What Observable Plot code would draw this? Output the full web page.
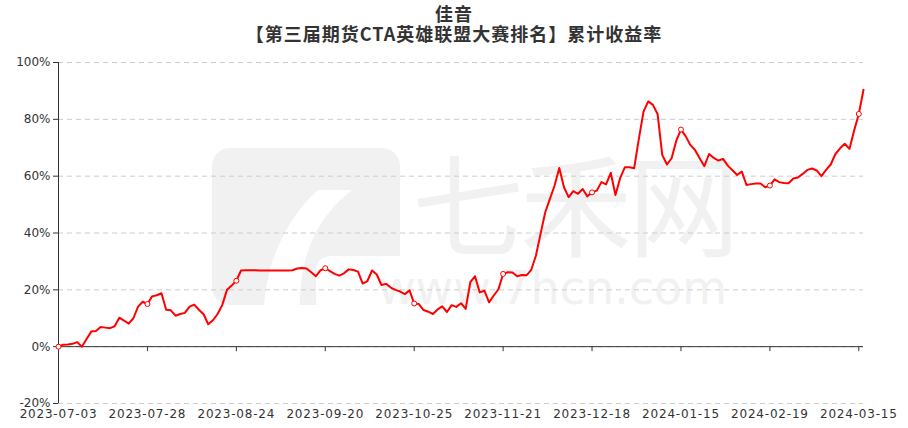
<!DOCTYPE html>
<html>
<head>
<meta charset="utf-8">
<script src="https://cdn.jsdelivr.net/npm/d3@7"></script>
<script src="https://cdn.jsdelivr.net/npm/@observablehq/plot@0.6"></script>
<style>
  html, body { margin: 0; padding: 0; background: #fff; }
  #wrap { position: relative; width: 908px; height: 428px; overflow: hidden; }
  #title { position: relative; z-index: 2; height: 45px; box-sizing: border-box; padding-top: 3px;
    text-align: center; font-family: "Noto Sans CJK SC", sans-serif; font-weight: bold; font-size: 18px;
    color: #333; letter-spacing: 1px; }
  #title div { height: 20px; line-height: 20px; }
  .wm { position: absolute; z-index: 0; color: #f1f1f1; white-space: nowrap; line-height: 1; }
  #wm1 { left: 412px; top: 144px; font-family: "Noto Sans CJK SC", sans-serif; font-size: 112px; letter-spacing: -4px; }
  #wm2 { left: 378px; top: 265px; font-family: "DejaVu Sans", sans-serif; font-size: 46px; }
  #logo { position: absolute; z-index: 0; left: 0; top: 0; }
  #chart { position: relative; z-index: 1; }
  #chart g[aria-label="x-axis tick label"] text { letter-spacing: 0.8px; }
</style>
</head>
<body>
<div id="wrap">
  <div id="title"><div>佳音</div><div>【第三届期货CTA英雄联盟大赛排名】累计收益率</div></div>
  <svg id="logo" width="908" height="428">
    <rect x="212" y="148" width="188" height="157" rx="18" fill="#f1f1f1"></rect>
    <path d="M300,305 C300,250 320,215 352,190 L318,190 C290,215 268,255 264,305 Z" fill="#fff"></path>
    <path d="M316,305 L316,272 Q316,256 332,256 L400,256 L400,305 Z" fill="#fff"></path>
  </svg>
  <div class="wm" id="wm1">七禾网</div>
  <div class="wm" id="wm2">www.7hcn.com</div>
  <div id="chart"></div>
</div>
<script>
const dates = [
"2023-07-03","2023-07-04","2023-07-05","2023-07-06","2023-07-07","2023-07-10","2023-07-11","2023-07-12","2023-07-13","2023-07-14","2023-07-17","2023-07-18","2023-07-19","2023-07-20","2023-07-21","2023-07-24","2023-07-25","2023-07-26","2023-07-27","2023-07-28","2023-07-31",
"2023-08-01","2023-08-02","2023-08-03","2023-08-04","2023-08-07","2023-08-08","2023-08-09","2023-08-10","2023-08-11","2023-08-14","2023-08-15","2023-08-16","2023-08-17","2023-08-18","2023-08-21","2023-08-22","2023-08-23","2023-08-24","2023-08-25","2023-08-28","2023-08-29","2023-08-30","2023-08-31",
"2023-09-01","2023-09-04","2023-09-05","2023-09-06","2023-09-07","2023-09-08","2023-09-11","2023-09-12","2023-09-13","2023-09-14","2023-09-15","2023-09-18","2023-09-19","2023-09-20","2023-09-21","2023-09-22","2023-09-25","2023-09-26","2023-09-27","2023-09-28",
"2023-10-09","2023-10-10","2023-10-11","2023-10-12","2023-10-13","2023-10-16","2023-10-17","2023-10-18","2023-10-19","2023-10-20","2023-10-23","2023-10-24","2023-10-25","2023-10-26","2023-10-27","2023-10-30","2023-10-31",
"2023-11-01","2023-11-02","2023-11-03","2023-11-06","2023-11-07","2023-11-08","2023-11-09","2023-11-10","2023-11-13","2023-11-14","2023-11-15","2023-11-16","2023-11-17","2023-11-20","2023-11-21","2023-11-22","2023-11-23","2023-11-24","2023-11-27","2023-11-28","2023-11-29","2023-11-30",
"2023-12-01","2023-12-04","2023-12-05","2023-12-06","2023-12-07","2023-12-08","2023-12-11","2023-12-12","2023-12-13","2023-12-14","2023-12-15","2023-12-18","2023-12-19","2023-12-20","2023-12-21","2023-12-22","2023-12-25","2023-12-26","2023-12-27","2023-12-28","2023-12-29",
"2024-01-02","2024-01-03","2024-01-04","2024-01-05","2024-01-08","2024-01-09","2024-01-10","2024-01-11","2024-01-12","2024-01-15","2024-01-16","2024-01-17","2024-01-18","2024-01-19","2024-01-22","2024-01-23","2024-01-24","2024-01-25","2024-01-26","2024-01-29","2024-01-30","2024-01-31",
"2024-02-01","2024-02-02","2024-02-05","2024-02-06","2024-02-07","2024-02-08","2024-02-19","2024-02-20","2024-02-21","2024-02-22","2024-02-23","2024-02-26","2024-02-27","2024-02-28","2024-02-29",
"2024-03-01","2024-03-04","2024-03-05","2024-03-06","2024-03-07","2024-03-08","2024-03-11","2024-03-12","2024-03-13","2024-03-14","2024-03-15","2024-03-18"
];

// cumulative return, %
const values = [
0, 0.7, 0.8, 1.0, 1.6, 0, 2.7, 5.3, 5.5, 6.9,
6.7, 6.5, 7.2, 10.2, 9.2, 8.1, 10.0, 14.1, 15.8, 15.0,
17.7, 18.1, 18.8, 13.0, 12.8, 10.9, 11.5, 11.9, 14.1, 14.8,
13.0, 11.4, 7.9, 9.3, 11.5, 14.7, 20.0, 21.5, 23.2, 26.8,
26.9, 26.9, 26.9, 26.8, 26.8, 26.8, 26.8, 26.8, 26.8, 26.8,
26.9, 27.5, 27.7, 27.5, 26.2, 24.8, 26.9, 27.6, 26.6, 25.6,
25.0, 25.8, 27.2, 27.0, 26.4, 22.2, 23.1, 26.8, 25.4, 21.7,
22.1, 20.8, 20.0, 19.4, 18.5, 19.8, 15.2, 15.0, 12.9, 12.3,
11.5, 13.1, 14.2, 12.2, 14.6, 14.0, 15.3, 13.3, 22.7, 24.8,
19.1, 19.7, 15.6, 18.0, 20.2, 25.6, 26.2, 26.1, 24.8, 25.2,
25.1, 27.0, 32.0, 39.7, 47.3, 52.0, 56.7, 62.9, 56.1, 52.6,
54.7, 53.8, 55.5, 52.9, 54.3, 54.9, 57.9, 57.1, 61.2, 53.4,
59.3, 63.1, 63.1, 62.8, 73.1, 82.7, 86.3, 85.1, 81.9, 67.5,
64.1, 66.3, 72.5, 76.4, 74.1, 71.0, 69.2, 66.3, 63.5, 67.8,
66.4, 65.5, 66.1, 63.7, 62.1, 60.4, 61.6, 56.9, 57.2, 57.4,
57.4, 56.1, 56.7, 58.9, 57.9, 57.6, 57.5, 59.2, 59.5, 60.8,
62.2, 62.7, 62.0, 60.0, 62.2, 64.1, 67.8, 69.8, 71.4, 69.6,
76.1, 81.9, 90.4
];

const tickLabels = ["2023-07-03","2023-07-28","2023-08-24","2023-09-20","2023-10-25","2023-11-21","2023-12-18","2024-01-15","2024-02-19","2024-03-15"];
const yTicks = [-20, 0, 20, 40, 60, 80, 100];

const data = dates.map((d, i) => ({date: d, value: values[i]}));
const markers = data.filter(d => tickLabels.includes(d.date));

const chart = Plot.plot({
  width: 908,
  height: 383,
  marginLeft: 58,
  marginRight: 45,
  marginTop: 17,
  marginBottom: 25,
  style: {background: "transparent", fontFamily: "DejaVu Sans, sans-serif", fontSize: "12px", color: "#333"},
  x: {type: "point", domain: dates, padding: 0, label: null},
  y: {domain: [-20, 100], label: null},
  marks: [
    Plot.gridY(yTicks, {stroke: "#cccccc", strokeOpacity: 1, strokeDasharray: "5,4"}),
    Plot.ruleY([0], {stroke: "#333"}),
    Plot.ruleX([dates[0]], {stroke: "#333"}),
    Plot.ruleX(tickLabels, {x: d => d, y1: 0, y2: 0, insetBottom: -5, stroke: "#333"}),
    Plot.axisY(yTicks, {tickSize: 5, tickPadding: 3, tickFormat: d => d + "%", stroke: "#333", fill: "#333", label: null}),
    Plot.axisX(tickLabels, {tickSize: 0, tickPadding: 6, fill: "#333", label: null}),
    Plot.line(data, {x: "date", y: "value", stroke: "#ff0000", strokeWidth: 2, strokeLinejoin: "round"}),
    Plot.dot(markers, {x: "date", y: "value", r: 2.5, fill: "white", stroke: "#ff0000", strokeWidth: 1})
  ]
});
document.getElementById("chart").appendChild(chart);
</script>
</body>
</html>
